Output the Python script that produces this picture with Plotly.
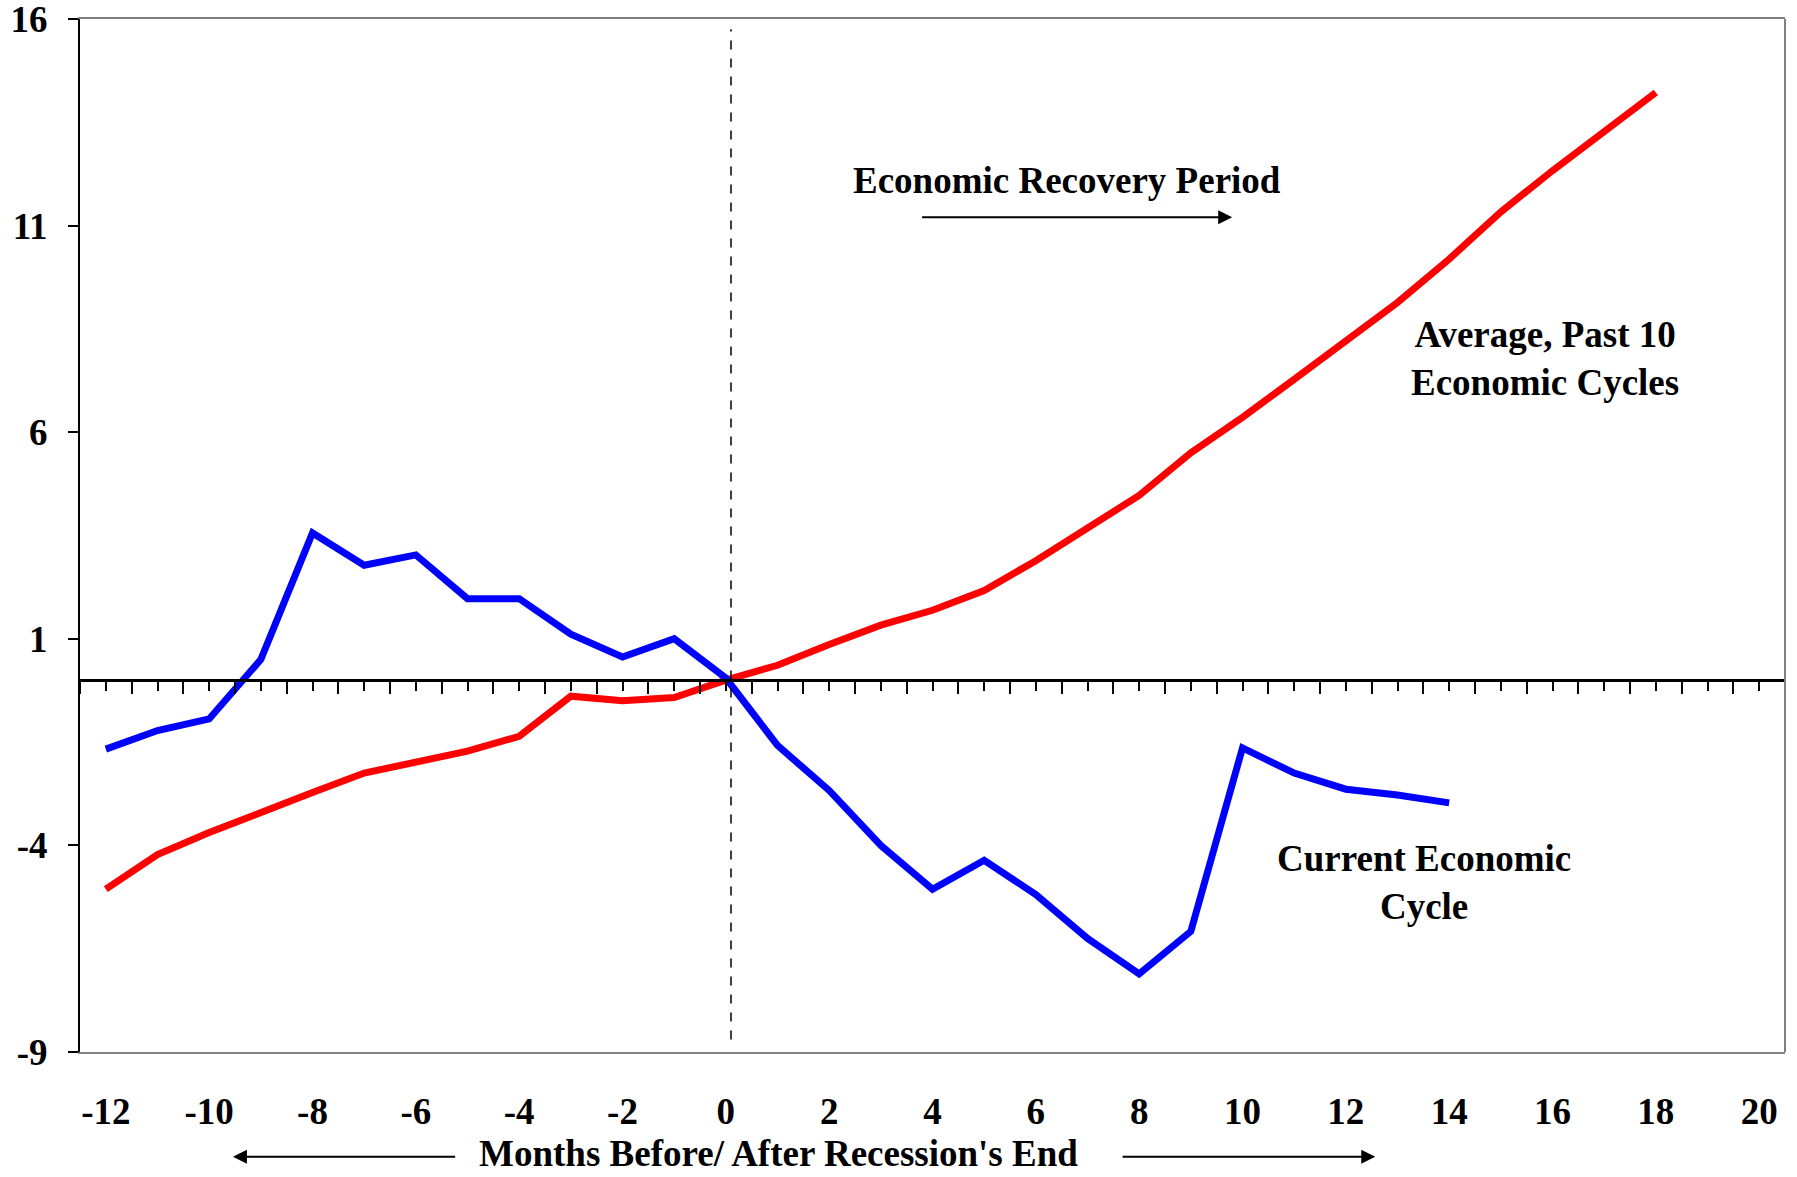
import plotly.graph_objects as go

# ---------------- data ----------------
months_current = list(range(-12, 15))
current_cycle = [-1.67, -1.22, -0.94, 0.5, 3.56, 2.78, 3.03, 1.97, 1.97, 1.11, 0.56, 1.0,
                 0.05, -1.58, -2.67, -4.0, -5.06, -4.36, -5.19, -6.25, -7.11, -6.08,
                 -1.64, -2.25, -2.64, -2.78, -2.97]

months_average = list(range(-12, 19))
average_cycles = [-5.06, -4.22, -3.69, -3.19, -2.72, -2.25, -2.0, -1.72, -1.36, -0.39,
                  -0.5, -0.42, 0.0, 0.36, 0.86, 1.33, 1.69, 2.17, 2.89, 3.67, 4.47,
                  5.5, 6.36, 7.28, 8.22, 9.14, 10.19, 11.33, 12.33, 13.25, 14.22]

x_ticks = list(range(-12, 21, 2))
x_ticktext = [str(v) for v in x_ticks]
y_ticks = [16, 11, 6, 1, -4, -9]
y_ticktext = [str(v) for v in y_ticks]
recession_end = 0.1

FONT = "Liberation Serif"

fig = go.Figure()
fig.add_trace(go.Scatter(x=months_average, y=average_cycles, mode="lines",
                         line=dict(color="#FF0000", width=7), showlegend=False))
fig.add_trace(go.Scatter(x=months_current, y=current_cycle, mode="lines",
                         line=dict(color="#0000FF", width=7), showlegend=False))
# invisible trace carrying the zero-line tick axis
fig.add_trace(go.Scatter(x=[months_current[0]], y=[0], mode="lines", xaxis="x2",
                         line=dict(width=0), showlegend=False, hoverinfo="skip"))

fig.update_layout(
    width=1797, height=1177,
    margin=dict(l=80, r=12, t=19, b=125),
    paper_bgcolor="white", plot_bgcolor="white",
    xaxis=dict(range=[-12.5, 20.5], tickvals=x_ticks, ticktext=x_ticktext,
               showgrid=False, zeroline=False, automargin=False,
               showline=True, linecolor="#808080", linewidth=2, mirror=True,
               ticks="", ticklabelstandoff=26, ticklabeloverflow="allow",
               tickfont=dict(family=FONT, size=37, color="black", weight=700)),
    xaxis2=dict(range=[-12.5, 20.5], overlaying="x", anchor="free", position=9 / 25,
                showgrid=False, zeroline=False, showline=True, linecolor="black",
                linewidth=3, ticks="outside", tick0=-11.5, dtick=1, ticklen=12,
                tickwidth=2, tickcolor="black", showticklabels=False, automargin=False,
                minor=dict(tick0=-12, dtick=1, ticks="outside", ticklen=9,
                           tickwidth=2, tickcolor="black")),
    yaxis=dict(range=[-9, 16], tickvals=y_ticks, ticktext=y_ticktext,
               showgrid=False, zeroline=False, automargin=False,
               showline=True, linecolor="black", linewidth=2, ticks="outside",
               ticklen=10, tickwidth=2, tickcolor="black", ticklabelstandoff=13,
               ticklabeloverflow="allow",
               tickfont=dict(family=FONT, size=37, color="black", weight=700)),
)

# right border of the frame
fig.add_shape(type="line", xref="paper", yref="paper", x0=1, x1=1, y0=0, y1=1,
              line=dict(color="#808080", width=2))
# recession end dashed line
fig.add_shape(type="line", xref="x", yref="paper", x0=recession_end, x1=recession_end,
              y0=0.012, y1=0.99, line=dict(color="black", width=1.5, dash="dash"))

tf = dict(family=FONT, size=37, color="black", weight=700)
fig.add_annotation(x=6.6, y=12.08, xref="x", yref="y", text="Economic Recovery Period",
                   showarrow=False, font=tf, xanchor="center", yanchor="middle")
fig.add_annotation(x=9.8, y=11.2, ax=3.77, ay=11.2, xref="x", yref="y", axref="x", ayref="y",
                   text="", showarrow=True, arrowhead=2, arrowsize=1.4, arrowwidth=2,
                   arrowcolor="black")
fig.add_annotation(x=15.85, y=7.78, xref="x", yref="y",
                   text="Average, Past 10<br>Economic Cycles",
                   showarrow=False, font=tf, align="center")
fig.add_annotation(x=13.52, y=-4.9, xref="x", yref="y",
                   text="Current Economic<br>Cycle",
                   showarrow=False, font=tf, align="center")
# x-axis title with arrows
fig.add_annotation(x=1.02, y=-0.0986, xref="x", yref="y domain",
                   text="Months Before/ After Recession's End",
                   showarrow=False, font=tf, xanchor="center", yanchor="middle")
fig.add_annotation(x=-9.54, y=-0.1015, ax=-5.21, ay=-0.1015, xref="x", yref="y domain",
                   axref="x", ayref="y domain", text="", showarrow=True, arrowhead=2,
                   arrowsize=1.4, arrowwidth=2, arrowcolor="black")
fig.add_annotation(x=12.57, y=-0.1015, ax=7.65, ay=-0.1015, xref="x", yref="y domain",
                   axref="x", ayref="y domain", text="", showarrow=True, arrowhead=2,
                   arrowsize=1.4, arrowwidth=2, arrowcolor="black")

fig.write_html("out.html", config={"displayModeBar": False},
               post_script="document.body.style.margin='0';")
